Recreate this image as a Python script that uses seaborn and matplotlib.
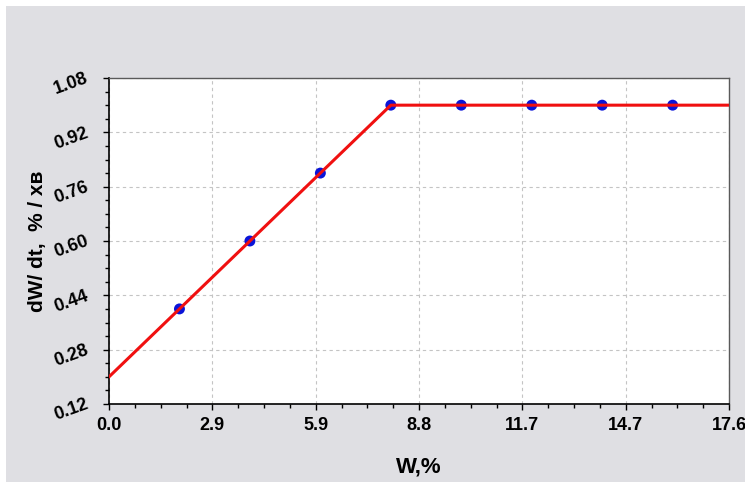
import numpy as np
import pandas as pd
import seaborn as sns
import matplotlib.pyplot as plt
from matplotlib.patches import Rectangle
from matplotlib.ticker import AutoMinorLocator, FormatStrFormatter

#####################
### Data
#####################

w_points = [2.0, 4.0, 6.0, 8.0, 10.0, 12.0, 14.0, 16.0]
rate_points = [0.40, 0.60, 0.80, 1.00, 1.00, 1.00, 1.00, 1.00]

w_fit = [0.0, 8.0, 17.6]
rate_fit = [0.20, 1.00, 1.00]

x_ticks = [0.0, 17.6 / 6, 2 * 17.6 / 6, 3 * 17.6 / 6, 4 * 17.6 / 6, 5 * 17.6 / 6, 17.6]
y_ticks = [0.12, 0.28, 0.44, 0.60, 0.76, 0.92, 1.08]

pointsDf = pd.DataFrame({"W": w_points, "rate": rate_points})
fitDf = pd.DataFrame({"W": w_fit, "rate": rate_fit})

#####################
### Plot
#####################

sns.set_style("white")
plt.rcParams['font.family'] = ['Liberation Sans', 'DejaVu Sans']
plt.rcParams['text.color'] = 'black'
plt.rcParams['axes.labelcolor'] = 'black'
plt.rcParams['xtick.color'] = 'black'
plt.rcParams['ytick.color'] = 'black'

fig = plt.figure(figsize=(7.45, 4.82), dpi=100)
fig.patch.set_facecolor("white")
# gray panel behind the chart
panel = Rectangle((6 / 745, 0), 1 - 6 / 745, 1 - 6 / 482,
                  transform=fig.transFigure, facecolor="#dfdfe3",
                  edgecolor="none", zorder=-1)
fig.add_artist(panel)

ax = fig.add_axes([109 / 745, 1 - 404 / 482, 620 / 745, 326 / 482])
ax.set_facecolor("white")

sns.scatterplot(data=pointsDf, x="W", y="rate", ax=ax, color="#0a14d8",
                s=62, edgecolor="none", zorder=3)
sns.lineplot(data=fitDf, x="W", y="rate", ax=ax, color="#f01010",
             linewidth=2.2, sort=False, estimator=None, zorder=4)

ax.set_xlim(0, 17.6)
ax.set_ylim(0.12, 1.08)
ax.set_xticks(x_ticks)
ax.set_yticks(y_ticks)
ax.xaxis.set_major_formatter(FormatStrFormatter('%.1f'))
ax.yaxis.set_major_formatter(FormatStrFormatter('%.2f'))
ax.xaxis.set_minor_locator(AutoMinorLocator(4))
ax.yaxis.set_minor_locator(AutoMinorLocator(4))

ax.tick_params(axis='both', which='major', direction='out', length=4.5, width=1,
               colors='black', labelsize=13, bottom=True, left=True)
ax.tick_params(axis='both', which='minor', direction='out', length=3, width=1,
               colors='black', bottom=True, left=True)
ax.tick_params(axis='x', pad=5)
ax.tick_params(axis='y', pad=11)

for lab in ax.get_xticklabels():
    lab.set_fontweight('bold')
for lab in ax.get_yticklabels():
    lab.set_fontweight('bold')
    lab.set_rotation(20)
    lab.set_rotation_mode('anchor')
    lab.set_ha('right')
    lab.set_va('center')

ax.grid(True, which='major', linestyle=(0, (3, 3)), color='#c4c4c4', linewidth=0.8)

for side in ['left', 'bottom']:
    ax.spines[side].set_color('black')
    ax.spines[side].set_linewidth(1.2)
for side in ['top', 'right']:
    ax.spines[side].set_color('#5a5a5a')
    ax.spines[side].set_linewidth(1.0)

ax.set_xlabel("W,%", fontsize=16, fontweight='bold')
ax.set_ylabel("dW/ dt,  % / хв", fontsize=15, fontweight='bold')
ax.xaxis.set_label_coords(0.5, -0.16)
ax.yaxis.set_label_coords(-0.10, 0.5)

fig.savefig("out.png", dpi=100)
